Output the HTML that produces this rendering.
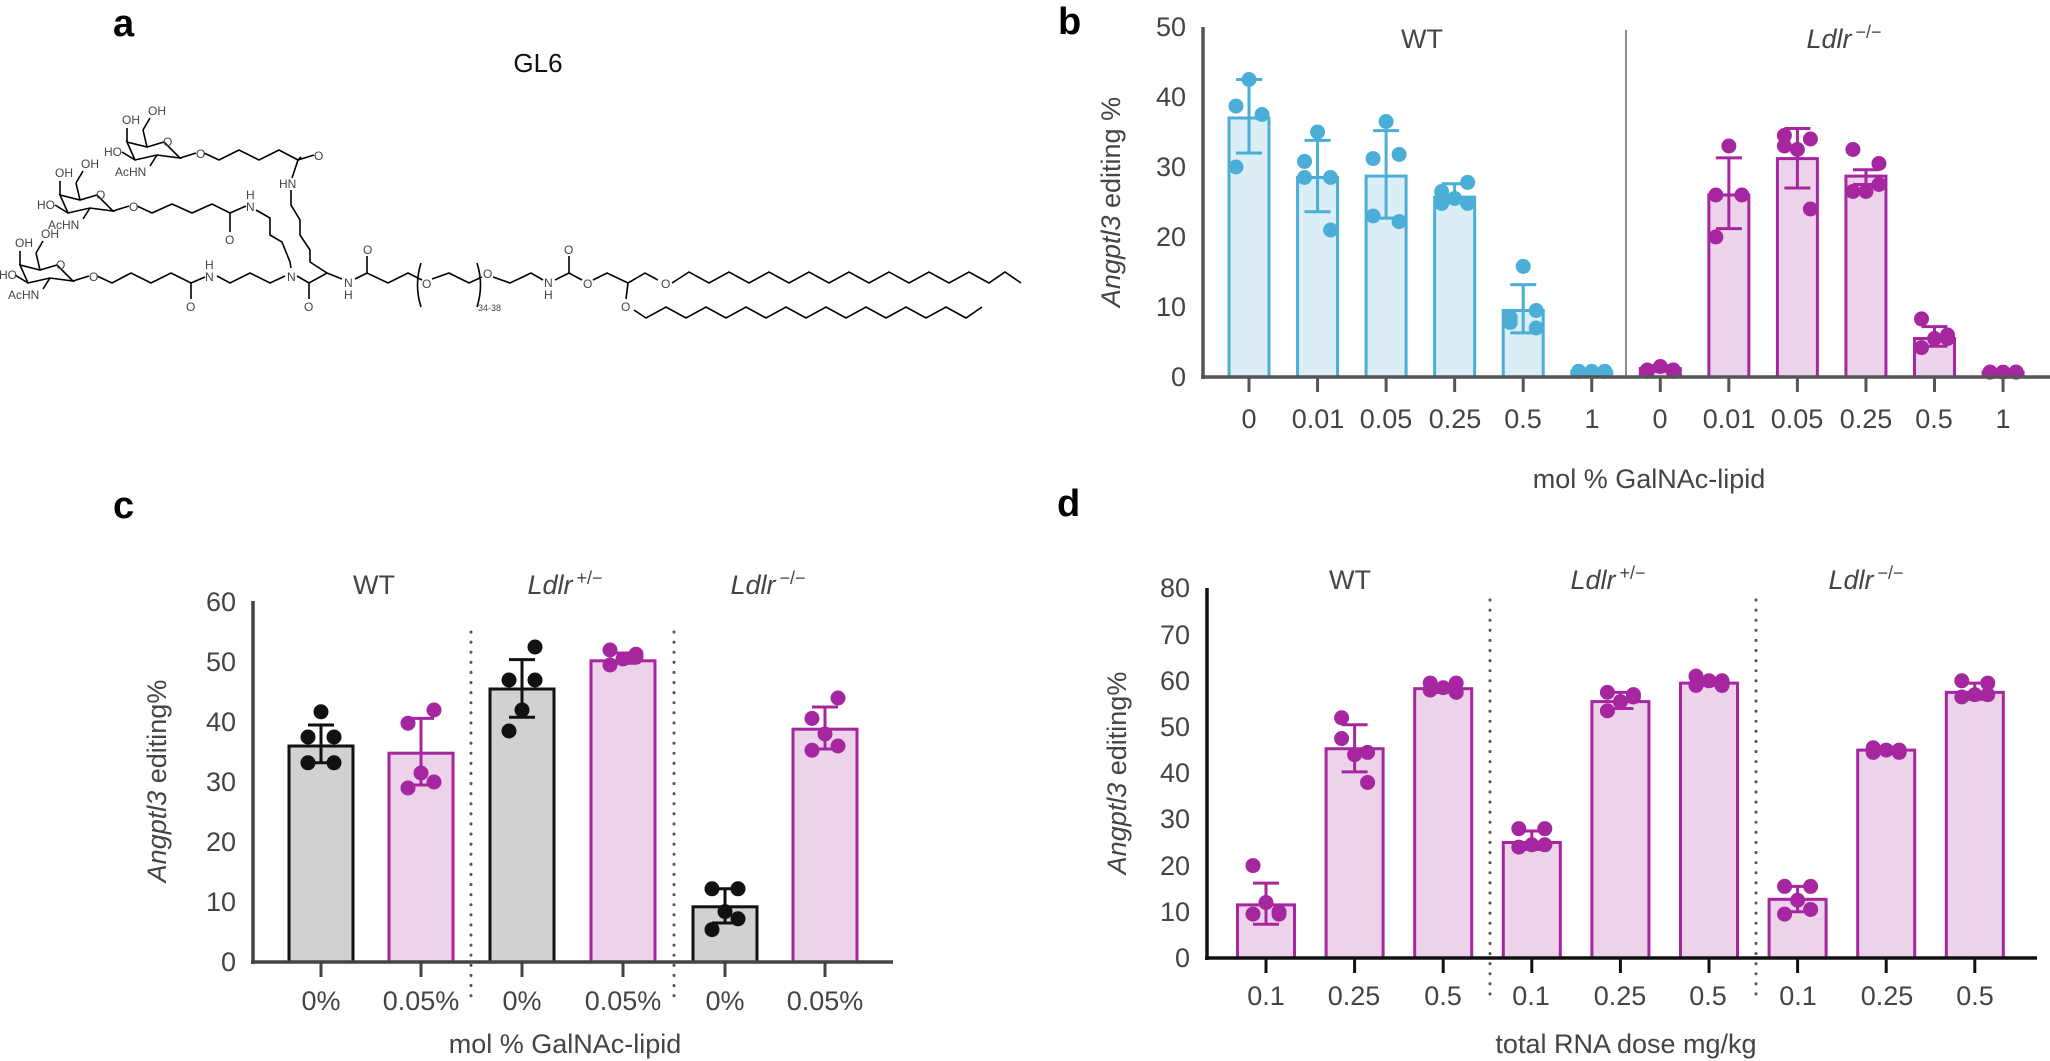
<!DOCTYPE html>
<html><head><meta charset="utf-8">
<style>
html,body{margin:0;padding:0;background:#fff;}
svg{display:block;}
text{font-family:"Liberation Sans Narrow","Liberation Sans",sans-serif;fill:#444;}
.t{font-size:27px;}
.it{font-style:italic;}
.L{font-family:"Liberation Sans",sans-serif;font-weight:bold;font-size:38px;fill:#000;}
.ch{font-family:"Liberation Sans",sans-serif;font-size:12px;fill:#000;}
</style></head><body>
<svg id="s" width="2050" height="1061" viewBox="0 0 2050 1061" xmlns="http://www.w3.org/2000/svg">
<rect width="2050" height="1061" fill="#fff"/>
<text class="L" x="113" y="36">a</text>
<text class="L" x="1058" y="34">b</text>
<text class="L" x="113" y="518">c</text>
<text class="L" x="1057" y="516">d</text>
<text x="538" y="72" text-anchor="middle" style="font-family:'Liberation Sans',sans-serif;font-size:26px;fill:#111">GL6</text>

<defs>
<g id="sug" fill="none" stroke="#000" stroke-width="1.6">
<polygon points="127,142 147,147 164,142 180,158 157,155 135,160"/>
<line x1="127" y1="142" x2="127" y2="128"/>
<line x1="147" y1="147" x2="143" y2="130"/>
<line x1="143" y1="130" x2="150" y2="118"/>
<line x1="135" y1="160" x2="122" y2="152"/>
<line x1="157" y1="155" x2="150" y2="166"/>
<line x1="180" y1="158" x2="196" y2="153"/>
</g>
</defs>
<use href="#sug"/>
<use href="#sug" transform="translate(-67,53)"/>
<use href="#sug" transform="translate(-107,123)"/>
<g fill="none" stroke="#000" stroke-width="1.6">
<polyline points="204,153 219,160 239,150 259,160 279,150 298,160 301,157"/>
<line x1="298" y1="160" x2="314" y2="155"/>
<line x1="298" y1="160" x2="292" y2="178"/>
<polyline points="291,190 291,205 300,220 300,235 310,250 310,262 327,273"/>
<polyline points="137,206 152,213 172,204 192,213 212,204 230,213 246,206"/>
<line x1="230" y1="213" x2="230" y2="232"/>
<polyline points="256,210 270,218 270,235 282,242 290,262 291,268"/>
<polyline points="97,276 112,283 131,273 151,283 171,273 191,283 205,277"/>
<line x1="191" y1="283" x2="191" y2="299"/>
<polyline points="217,276 230,283 250,273 270,283 285,276"/>
<polyline points="297,276 309,283 327,273 342,279"/>
<polyline points="355,279 367,273 388,283 408,273 422,280"/>
<line x1="309" y1="283" x2="309" y2="299"/>
<line x1="367" y1="273" x2="367" y2="256"/>
<polyline points="432,279 449,273 469,283 482,277"/>
<path d="M421,263 Q414,285 421,307"/><path d="M477,263 Q484,285 477,307"/>
<polyline points="493,277 510,283 531,273 543,280"/>
<polyline points="555,280 569,273 582,280"/>
<line x1="569" y1="273" x2="569" y2="256"/>
<polyline points="593,280 607,273 628,283 645,273 658,280"/>
<line x1="628" y1="283" x2="626" y2="299"/>
<polyline points="672,283 689,272 709,283 729,272 749,283 769,272 789,283 809,272 829,283 849,272 869,283 889,272 909,283 929,272 949,283 969,272 989,283 1005,272 1021,283"/>
<polyline points="634,310 646,318 666,307 686,318 706,307 726,318 746,307 766,318 786,307 806,318 826,307 846,318 866,307 886,318 906,307 926,318 946,307 966,318 982,307"/>
</g>
<g class="ch">
<text x="122" y="124">OH</text><text x="148" y="115">OH</text><text x="104" y="156">HO</text><text x="115" y="176">AcHN</text><text x="163" y="146">O</text>
<text x="55" y="177">OH</text><text x="81" y="168">OH</text><text x="37" y="209">HO</text><text x="48" y="229">AcHN</text><text x="96" y="199">O</text>
<text x="15" y="247">OH</text><text x="41" y="238">OH</text><text x="-1" y="279">HO</text><text x="8" y="299">AcHN</text><text x="56" y="269">O</text>
<text x="196" y="158">O</text><text x="314" y="160">O</text><text x="279" y="188">HN</text>
<text x="129" y="211">O</text><text x="225" y="244">O</text><text x="246" y="211">N</text><text x="246" y="199">H</text>
<text x="89" y="281">O</text><text x="186" y="311">O</text><text x="205" y="281">N</text><text x="205" y="269">H</text>
<text x="287" y="281">N</text><text x="304" y="311">O</text><text x="344" y="287">N</text><text x="344" y="299">H</text>
<text x="363" y="254">O</text><text x="422" y="288">O</text><text x="483" y="278">O</text>
<text x="478" y="311" style="font-size:9px">34-38</text>
<text x="544" y="287">N</text><text x="544" y="299">H</text><text x="564" y="254">O</text><text x="583" y="288">O</text>
<text x="661" y="288">O</text><text x="621" y="311">O</text>
</g>

<g id="gb"></g>
<g stroke="#555" stroke-width="3.5" fill="none">
<line x1="1203" y1="27" x2="1203" y2="379"/>
<line x1="1201" y1="377" x2="2050" y2="377"/>
</g>
<line x1="1626" y1="30" x2="1626" y2="377" stroke="#666" stroke-width="1.5"/>
<g class="t" text-anchor="end">
<text x="1186" y="386">0</text><text x="1186" y="316">10</text><text x="1186" y="246">20</text><text x="1186" y="176">30</text><text x="1186" y="106">40</text><text x="1186" y="36">50</text>
</g>
<text class="t" x="1422" y="48" text-anchor="middle">WT</text>
<text class="t" x="1844" y="48" text-anchor="middle"><tspan class="it">Ldlr</tspan><tspan dx="4" dy="-10" style="font-size:18px">−/−</tspan></text>
<g class="t" text-anchor="middle">
<text x="1249" y="428">0</text><text x="1318" y="428">0.01</text><text x="1386" y="428">0.05</text><text x="1455" y="428">0.25</text><text x="1523" y="428">0.5</text><text x="1592" y="428">1</text>
<text x="1660" y="428">0</text><text x="1729" y="428">0.01</text><text x="1797" y="428">0.05</text><text x="1866" y="428">0.25</text><text x="1934" y="428">0.5</text><text x="2003" y="428">1</text>
</g>
<text class="t" x="1649" y="488" text-anchor="middle">mol % GalNAc-lipid</text>
<text class="t" transform="translate(1120,202) rotate(-90)" text-anchor="middle"><tspan class="it">Angptl3</tspan> editing %</text>

<g id="gc"></g>
<g stroke="#444" stroke-width="3.5" fill="none">
<line x1="253" y1="601" x2="253" y2="964"/>
<line x1="251" y1="962" x2="893" y2="962"/>
</g>
<g stroke="#555" stroke-width="3" stroke-dasharray="0.1 10" stroke-linecap="round">
<line x1="471" y1="632" x2="471" y2="1000"/><line x1="674" y1="632" x2="674" y2="1000"/>
</g>
<g class="t" text-anchor="end">
<text x="236" y="971">0</text><text x="236" y="911">10</text><text x="236" y="851">20</text><text x="236" y="791">30</text><text x="236" y="731">40</text><text x="236" y="671">50</text><text x="236" y="611">60</text>
</g>
<text class="t" x="374" y="594" text-anchor="middle">WT</text>
<text class="t" x="565" y="594" text-anchor="middle"><tspan class="it">Ldlr</tspan><tspan dx="4" dy="-10" style="font-size:18px">+/−</tspan></text>
<text class="t" x="768" y="594" text-anchor="middle"><tspan class="it">Ldlr</tspan><tspan dx="4" dy="-10" style="font-size:18px">−/−</tspan></text>
<g class="t" text-anchor="middle">
<text x="321" y="1010">0%</text><text x="421" y="1010">0.05%</text><text x="522" y="1010">0%</text><text x="623" y="1010">0.05%</text><text x="725" y="1010">0%</text><text x="825" y="1010">0.05%</text>
</g>
<text class="t" x="565" y="1053" text-anchor="middle">mol % GalNAc-lipid</text>
<text class="t" transform="translate(166,781) rotate(-90)" text-anchor="middle"><tspan class="it">Angptl3</tspan> editing%</text>

<g id="gd"></g>
<g stroke="#111" stroke-width="3.5" fill="none">
<line x1="1207" y1="588" x2="1207" y2="960"/>
<line x1="1205" y1="958" x2="2037" y2="958"/>
</g>
<g stroke="#555" stroke-width="3" stroke-dasharray="0.1 10" stroke-linecap="round">
<line x1="1490" y1="600" x2="1490" y2="1000"/><line x1="1756" y1="600" x2="1756" y2="1000"/>
</g>
<g class="t" text-anchor="end">
<text x="1190" y="967">0</text><text x="1190" y="921">10</text><text x="1190" y="875">20</text><text x="1190" y="828">30</text><text x="1190" y="782">40</text><text x="1190" y="736">50</text><text x="1190" y="690">60</text><text x="1190" y="644">70</text><text x="1190" y="597">80</text>
</g>
<text class="t" x="1350" y="589" text-anchor="middle">WT</text>
<text class="t" x="1608" y="589" text-anchor="middle"><tspan class="it">Ldlr</tspan><tspan dx="4" dy="-10" style="font-size:18px">+/−</tspan></text>
<text class="t" x="1866" y="589" text-anchor="middle"><tspan class="it">Ldlr</tspan><tspan dx="4" dy="-10" style="font-size:18px">−/−</tspan></text>
<g class="t" text-anchor="middle">
<text x="1266" y="1005">0.1</text><text x="1354" y="1005">0.25</text><text x="1443" y="1005">0.5</text>
<text x="1531" y="1005">0.1</text><text x="1620" y="1005">0.25</text><text x="1708" y="1005">0.5</text>
<text x="1798" y="1005">0.1</text><text x="1887" y="1005">0.25</text><text x="1975" y="1005">0.5</text>
</g>
<text class="t" x="1626" y="1053" text-anchor="middle">total RNA dose mg/kg</text>
<text class="t" transform="translate(1126,773) rotate(-90)" text-anchor="middle"><tspan class="it">Angptl3</tspan> editing%</text>
</svg>
<script>
var NS="http://www.w3.org/2000/svg";
function el(g,t,a){var e=document.createElementNS(NS,t);for(var k in a)e.setAttribute(k,a[k]);g.appendChild(e);return e;}
var BL={s:"#4aaed6",f:"#dbeef6",d:"#4aaed6"},MG={s:"#a6269f",f:"#ecd3ea",d:"#a6269f"},GR={s:"#111",f:"#d0d2d1",d:"#111"};
function bars(id,y0,k,w,list,tickLen,tickCol){
 var g=document.getElementById(id);
 list.forEach(function(b){
  var x=b.x,y=y0-k*b.m;
  el(g,"line",{x1:x,y1:y0,x2:x,y2:y0+tickLen,stroke:tickCol,"stroke-width":3});
  el(g,"rect",{x:x-w/2,y:y,width:w,height:y0-y,fill:b.c.f,stroke:b.c.s,"stroke-width":3});
  var hi=y0-k*b.hi,lo=y0-k*b.lo;
  el(g,"line",{x1:x,y1:hi,x2:x,y2:lo,stroke:b.c.s,"stroke-width":3});
  el(g,"line",{x1:x-13,y1:hi,x2:x+13,y2:hi,stroke:b.c.s,"stroke-width":3});
  el(g,"line",{x1:x-13,y1:lo,x2:x+13,y2:lo,stroke:b.c.s,"stroke-width":3});
  var off=[0,-13,13,-13,13,0];
  b.p.forEach(function(v,i){el(g,"circle",{cx:x+off[i%off.length],cy:y0-k*v,r:7.5,fill:b.c.d});});
 });
}
var bx=function(i){return 1249+68.55*i;};
bars("gb",377,7,40,[
 {x:bx(0),m:37,hi:42.5,lo:32,p:[42.5,38.7,37.5,30],c:BL},
 {x:bx(1),m:28.5,hi:33.8,lo:23.6,p:[35,30.8,28.5,28.5,21],c:BL},
 {x:bx(2),m:28.7,hi:35.2,lo:22.7,p:[36.5,31.2,31.8,23,22.2],c:BL},
 {x:bx(3),m:25.7,hi:27.6,lo:24.9,p:[25.5,26.5,27.8,24.8,24.8],c:BL},
 {x:bx(4),m:9.5,hi:13.2,lo:6.3,p:[15.8,8.5,9.5,7.8,7],c:BL},
 {x:bx(5),m:0.8,hi:1,lo:0.6,p:[0.8,0.8,0.8,0.8,0.8],c:BL},
 {x:bx(6),m:1.2,hi:1.6,lo:0.8,p:[1.5,1,1,0.8,0.8],c:MG},
 {x:bx(7),m:26,hi:31.3,lo:21.2,p:[33,26,26,20],c:MG},
 {x:bx(8),m:31.2,hi:35.5,lo:27,p:[32.5,34.5,34,33,24],c:MG},
 {x:bx(9),m:28.7,hi:29.6,lo:27.5,p:[26.5,32.5,30.5,26.5,27.5],c:MG},
 {x:bx(10),m:5.5,hi:7.2,lo:4.4,p:[5.5,8.3,6,4.2,5.5],c:MG},
 {x:bx(11),m:0.7,hi:0.9,lo:0.5,p:[0.7,0.7,0.7,0.7,0.7],c:MG}
],15,"#555");
bars("gc",962,6,64,[
 {x:321,m:36,hi:39.5,lo:33.2,p:[41.7,37.5,37.5,33.2,33.2],c:GR},
 {x:421,m:34.8,hi:40.6,lo:29.5,p:[31.5,39.8,42,29,30],c:MG},
 {x:522,m:45.5,hi:50.4,lo:40.8,p:[42,47,47,38.5,52.5],c:GR},
 {x:623,m:50.2,hi:51.5,lo:49.8,p:[50.5,52,50.8,49.5,51.3],c:MG},
 {x:725,m:9.2,hi:12.2,lo:6.5,p:[8.4,12.2,12.2,5.4,7.2],c:GR},
 {x:825,m:38.8,hi:42.5,lo:35.5,p:[38,40.6,44,35.3,36],c:MG}
],15,"#444");
var dx=function(i){return 1266+88.6*i;};
bars("gd",958,4.62,57,[
 {x:dx(0),m:11.5,hi:16.2,lo:7.3,p:[12,9.5,9.5,20,10],c:MG},
 {x:dx(1),m:45.3,hi:50.5,lo:40.3,p:[44,47.5,44.5,52,38],c:MG},
 {x:dx(2),m:58.3,hi:59,lo:57.5,p:[58.5,59.5,59.5,58,57.5],c:MG},
 {x:dx(3),m:25,hi:27.5,lo:23.5,p:[24.5,28,28,24,24.5],c:MG},
 {x:dx(4),m:55.5,hi:57.5,lo:54,p:[55.5,57.5,57,53.5,56.5],c:MG},
 {x:dx(5),m:59.5,hi:60.5,lo:59,p:[60,61,60,59,59],c:MG},
 {x:dx(6),m:12.7,hi:15.5,lo:10,p:[12.5,15.5,15.5,9.5,10.5],c:MG},
 {x:dx(7),m:45,hi:45.6,lo:44.4,p:[45,45.5,44.5,44.5,45],c:MG},
 {x:dx(8),m:57.5,hi:59.5,lo:56,p:[57,60,59.5,56.5,57],c:MG}
],15,"#111");
</script>
</body></html>
